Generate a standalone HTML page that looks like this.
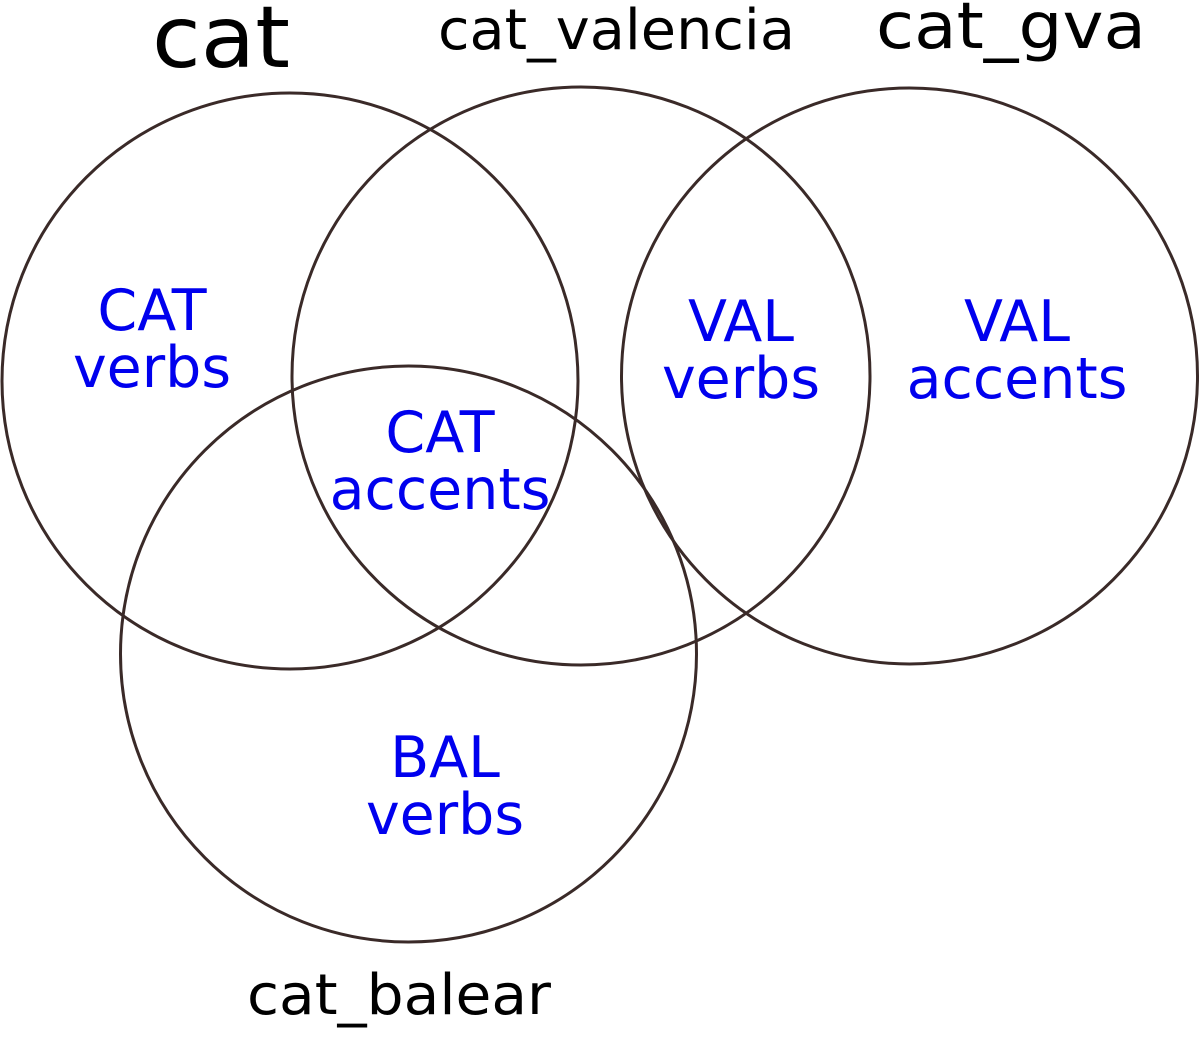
<!DOCTYPE html>
<html><head><style>html,body{margin:0;padding:0;background:#fff;}svg{display:block}</style></head>
<body>
<svg width="1200" height="1062" viewBox="0 0 1200 1062" xmlns="http://www.w3.org/2000/svg">
<g fill="none" stroke="#3a2a28" stroke-width="3">
<circle cx="290" cy="381" r="288"/>
<circle cx="581" cy="376" r="289"/>
<circle cx="909.5" cy="376" r="288"/>
<circle cx="408.5" cy="654" r="288"/>
</g>
<g font-family="DejaVu Sans, sans-serif" fill="#000">
<text x="152" y="67" font-size="86" textLength="138" lengthAdjust="spacingAndGlyphs">cat</text>
<text x="438" y="49" font-size="56" textLength="357" lengthAdjust="spacingAndGlyphs">cat_valencia</text>
<text x="876" y="48" font-size="64" textLength="270" lengthAdjust="spacingAndGlyphs">cat_gva</text>
<text x="247" y="1014" font-size="56" textLength="304" lengthAdjust="spacingAndGlyphs">cat_balear</text>
</g>
<g font-family="DejaVu Sans, sans-serif" fill="#0000ee" font-size="57" text-anchor="middle">
<text x="152" y="330">CAT</text><text x="152" y="387">verbs</text>
<text x="440" y="452">CAT</text><text x="440" y="509">accents</text>
<text x="741" y="341">VAL</text><text x="741" y="398">verbs</text>
<text x="1017" y="341">VAL</text><text x="1017" y="398">accents</text>
<text x="445" y="777">BAL</text><text x="445" y="834">verbs</text>
</g>
</svg>
</body></html>
